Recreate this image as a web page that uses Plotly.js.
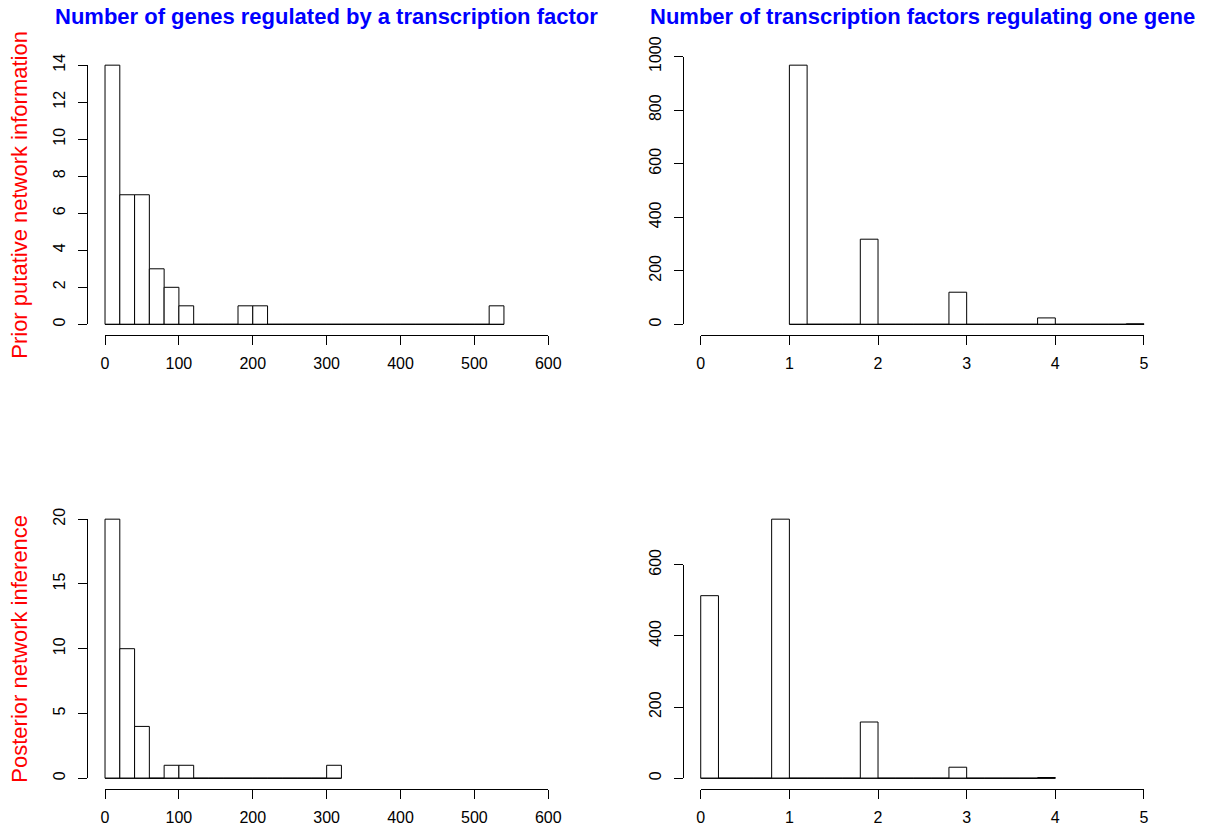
<!DOCTYPE html>
<html>
<head>
<meta charset="utf-8">
<script src="https://cdn.plot.ly/plotly-3.0.1.min.js"></script>
<style>html,body{margin:0;padding:0;background:#fff;}#chart{width:1205px;height:829px;}</style>
</head>
<body>
<div id="chart"></div>
<script>
// ---------------- data ----------------
const columnTitles = ["Number of genes regulated by a transcription factor",
                      "Number of transcription factors regulating one gene"];
const rowLabels = ["Prior putative network information", "Posterior network inference"];

// Histogram: genes regulated per transcription factor (bin width 20)
const genesPerTF_binWidth = 20;
const genesPerTF_prior_binStart = 0;
const genesPerTF_prior = [14,7,7,3,2,1,0,0,0,1,1,0,0,0,0,0,0,0,0,0,0,0,0,0,0,0,1];
const genesPerTF_post_binStart = 0;
const genesPerTF_post = [20,10,4,0,1,1,0,0,0,0,0,0,0,0,0,1];

// Histogram: transcription factors per gene (bin width 0.2)
const tfsPerGene_binWidth = 0.2;
const tfsPerGene_prior_binStart = 1;
const tfsPerGene_prior = [968,0,0,0,318,0,0,0,0,120,0,0,0,0,24,0,0,0,0,2];
const tfsPerGene_post_binStart = 0;
const tfsPerGene_post = [513,0,0,0,728,0,0,0,0,158,0,0,0,0,31,0,0,0,0,2];

// Tick values
const xTicksGenes = [0,100,200,300,400,500,600];
const xTicksTFs = [0,1,2,3,4,5];
const yTicksPriorGenes = [0,2,4,6,8,10,12,14];
const yTicksPostGenes = [0,5,10,15,20];
const yTicksPriorTFs = [0,200,400,600,800,1000];
const yTicksPostTFs = [0,200,400,600];

// ---------------- layout geometry (pixels) ----------------
const W = 1205, H = 829;
const fx = px => px / W;
const fy = py => 1 - py / H;
const colPx = [[87.3, 566.0], [683.0, 1161.7]];
const rowPx = [[54.8, 334.7], [508.8, 788.6]];
const FONT = "Liberation Sans, Arial, Helvetica, sans-serif";

const panels = [
  {row:0, col:0, counts:genesPerTF_prior, start:genesPerTF_prior_binStart, bw:genesPerTF_binWidth, xt:xTicksGenes, yt:yTicksPriorGenes},
  {row:0, col:1, counts:tfsPerGene_prior, start:tfsPerGene_prior_binStart, bw:tfsPerGene_binWidth, xt:xTicksTFs, yt:yTicksPriorTFs},
  {row:1, col:0, counts:genesPerTF_post, start:genesPerTF_post_binStart, bw:genesPerTF_binWidth, xt:xTicksGenes, yt:yTicksPostGenes},
  {row:1, col:1, counts:tfsPerGene_post, start:tfsPerGene_post_binStart, bw:tfsPerGene_binWidth, xt:xTicksTFs, yt:yTicksPostTFs}
];

const data = [];
const layout = {
  width: W, height: H, autosize: false,
  margin: {l:0, r:0, t:0, b:0, pad:0},
  paper_bgcolor: "#fff", plot_bgcolor: "rgba(0,0,0,0)",
  showlegend: false, barmode: "overlay",
  font: {family: FONT, size: 16, color: "#000"},
  annotations: []
};

panels.forEach((p, i) => {
  const n = i + 1, d = i + 5;
  const xlo = p.xt[0], xhi = p.xt[p.xt.length - 1];
  const ymax = Math.max.apply(null, p.counts);
  const xr = [xlo - 0.04 * (xhi - xlo), xhi + 0.04 * (xhi - xlo)];
  const yr = [-0.04 * ymax, 1.04 * ymax];
  const [cx0, cx1] = colPx[p.col];
  const [ry0, ry1] = rowPx[p.row];
  const xToPx = v => cx0 + (v - xr[0]) / (xr[1] - xr[0]) * (cx1 - cx0);
  const yToPx = v => ry1 - (v - yr[0]) / (yr[1] - yr[0]) * (ry1 - ry0);

  const centers = p.counts.map((c, k) => p.start + p.bw * (k + 0.5));
  const edgeLo = p.start, edgeHi = p.start + p.bw * p.counts.length;

  data.push({
    type: "bar", x: centers, y: p.counts, width: p.bw,
    xaxis: "x" + n, yaxis: "y" + n,
    marker: {color: "#fff", line: {color: "#000", width: 1}},
    hoverinfo: "skip"
  });
  data.push({
    type: "scatter", mode: "lines", x: [edgeLo, edgeHi], y: [0, 0],
    xaxis: "x" + n, yaxis: "y" + n,
    line: {color: "#000", width: 1}, hoverinfo: "skip"
  });
  data.push({
    type: "scatter", mode: "markers", x: [null], y: [null],
    xaxis: "x" + d, yaxis: "y" + d, hoverinfo: "skip"
  });

  const hidden = {visible: false, showgrid: false, zeroline: false, fixedrange: true};
  layout["xaxis" + n] = Object.assign({domain: [fx(cx0), fx(cx1)], range: xr, anchor: "y" + n}, hidden);
  layout["yaxis" + n] = Object.assign({domain: [fy(ry1), fy(ry0)], range: yr, anchor: "x" + n}, hidden);

  const common = {
    tickmode: "array", ticks: "outside", ticklen: 9, tickwidth: 1, tickcolor: "#000",
    showline: true, linecolor: "#000", linewidth: 1, showgrid: false, zeroline: false,
    tickfont: {family: FONT, size: 16, color: "#000"}, fixedrange: true, anchor: "free"
  };
  layout["xaxis" + d] = Object.assign({}, common, {
    domain: [fx(xToPx(xlo)), fx(xToPx(xhi))], range: [xlo, xhi],
    tickvals: p.xt, ticktext: p.xt.map(String),
    position: fy(ry1), ticklabelstandoff: 5
  });
  const ylast = p.yt[p.yt.length - 1];
  layout["yaxis" + d] = Object.assign({}, common, {
    domain: [fy(yToPx(0)), fy(yToPx(ylast))], range: [0, ylast],
    tickvals: p.yt, ticktext: p.yt.map(String), tickangle: -90,
    position: fx(cx0), ticklabelstandoff: 7
  });
});

// column titles
columnTitles.forEach((t, c) => {
  layout.annotations.push({
    text: t, xref: "paper", yref: "paper",
    x: fx((colPx[c][0] + colPx[c][1]) / 2), y: fy(16),
    xanchor: "center", yanchor: "middle", showarrow: false,
    font: {family: FONT, size: 22, color: "#0000FF", weight: "bold"}
  });
});
// row labels
rowLabels.forEach((t, r) => {
  layout.annotations.push({
    text: t, xref: "paper", yref: "paper",
    x: fx(20), y: fy((rowPx[r][0] + rowPx[r][1]) / 2),
    xanchor: "center", yanchor: "middle", showarrow: false, textangle: -90,
    font: {family: FONT, size: 22, color: "#FF0000"}
  });
});

Plotly.newPlot("chart", data, layout, {staticPlot: true, displayModeBar: false});
</script>
</body>
</html>
